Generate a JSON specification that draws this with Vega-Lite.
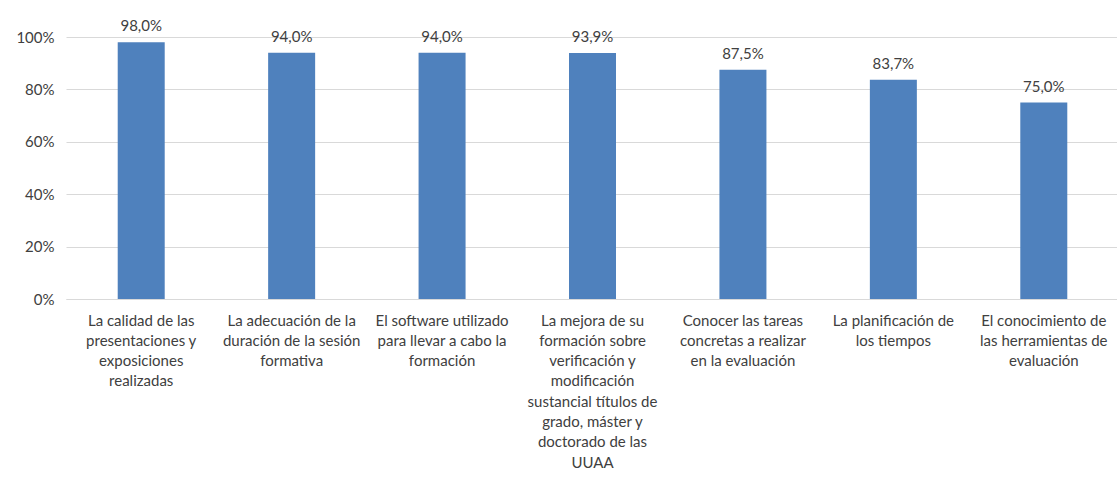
{
  "$schema": "https://vega.github.io/schema/vega-lite/v6.json",
  "width": 1053,
  "height": 262,
  "autosize": {"type": "none"},
  "padding": {"left": 66, "top": 37, "right": 0, "bottom": 180},
  "background": "white",
  "config": {
    "locale": {"number": {"decimal": ",", "thousands": ".", "grouping": [3], "currency": ["", " €"]}},
    "view": {"stroke": null},
    "font": "Lato"
  },
  "data": {
    "values": [
      {"item": "La calidad de las|presentaciones y|exposiciones|realizadas", "value": 0.98},
      {"item": "La adecuación de la|duración de la sesión|formativa", "value": 0.94},
      {"item": "El software utilizado|para llevar a cabo la|formación", "value": 0.94},
      {"item": "La mejora de su|formación sobre|verificación y|modificación|sustancial títulos de|grado, máster y|doctorado de las|UUAA", "value": 0.939},
      {"item": "Conocer las tareas|concretas a realizar|en la evaluación", "value": 0.875},
      {"item": "La planificación de|los tiempos", "value": 0.837},
      {"item": "El conocimiento de|las herramientas de|evaluación", "value": 0.75}
    ]
  },
  "encoding": {
    "x": {
      "field": "item", "type": "nominal", "sort": null, "title": null,
      "scale": {"paddingInner": 0.69, "paddingOuter": 0.345},
      "axis": {
        "labelAngle": 0, "labelExpr": "split(datum.label, '|')",
        "labelFont": "Lato", "labelFontSize": 15, "labelLineHeight": 20.3,
        "labelColor": "#404040", "labelPadding": 14, "labelLimit": 0,
        "ticks": false, "domainColor": "#d9d9d9", "domainWidth": 1.2,
        "labelBaseline": "top"
      }
    },
    "y": {
      "field": "value", "type": "quantitative", "title": null,
      "scale": {"domain": [0, 1], "nice": false},
      "axis": {
        "format": ".0%", "values": [0, 0.2, 0.4, 0.6, 0.8, 1],
        "labelFont": "Lato", "labelFontSize": 15, "labelColor": "#404040",
        "labelPadding": 12, "ticks": false, "domain": false,
        "gridColor": "#d9d9d9", "gridWidth": 1.2
      }
    }
  },
  "layer": [
    {"mark": {"type": "bar", "color": "#4f81bd", "width": 47}},
    {
      "mark": {"type": "text", "baseline": "alphabetic", "dy": -11, "fontSize": 15, "font": "Lato", "color": "#404040"},
      "encoding": {"text": {"field": "value", "type": "quantitative", "format": ".1%"}}
    }
  ]
}
